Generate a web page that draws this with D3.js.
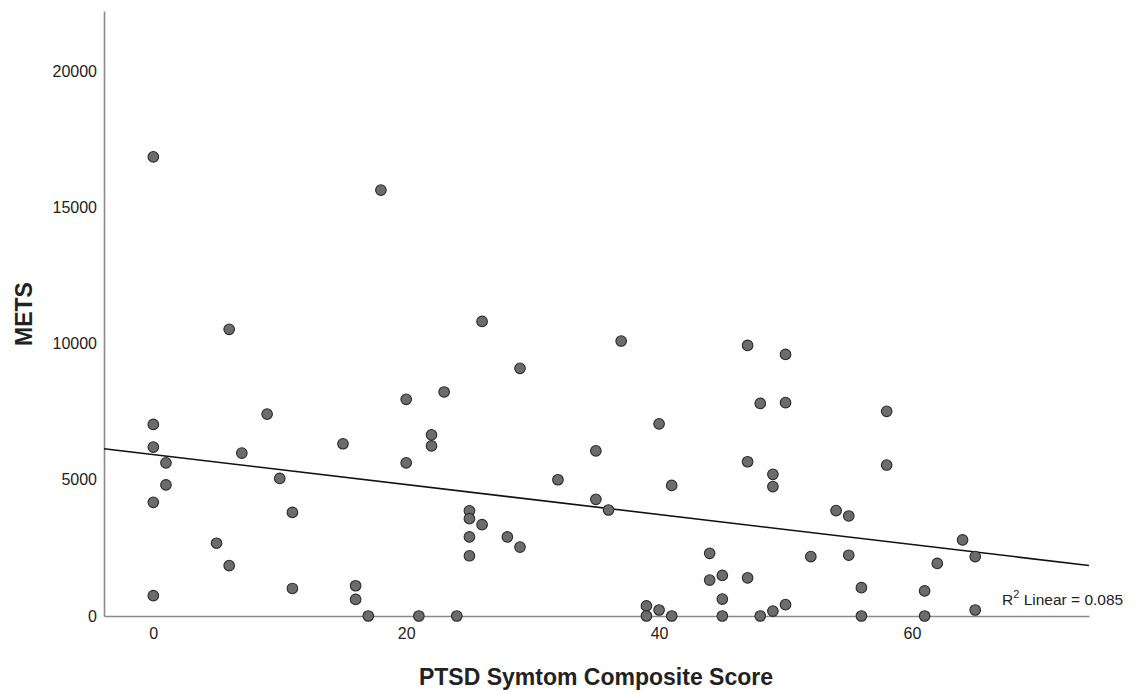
<!DOCTYPE html>
<html>
<head>
<meta charset="utf-8">
<script src="https://cdn.jsdelivr.net/npm/d3@7"></script>
<style>
  body { margin: 0; background: #fff; }
  svg text { font-family: Arial, "Liberation Sans", sans-serif; fill: #222; }
</style>
</head>
<body>
<script>
const WIDTH = 1135;
const HEIGHT = 694;

// PTSD score (x) and METS (y), one entry per respondent
var scores = [0, 0, 0, 0, 0, 1, 1, 5, 6, 6, 7, 9, 10, 11, 11, 15, 16, 16, 17, 18,
    20, 20, 21, 22, 22, 23, 24, 25, 25, 25, 25, 26, 26, 28, 29, 29, 32, 35, 35, 36,
    37, 39, 39, 40, 40, 41, 41, 44, 44, 45, 45, 45, 47, 47, 47, 48, 48, 49, 49, 49,
    50, 50, 50, 52, 54, 55, 55, 56, 56, 58, 58, 61, 61, 62, 64, 65, 65];
var mets = [16850, 7030, 6200, 4170, 745, 5620, 4810, 2670, 10520, 1850, 5980, 7410, 5050, 3800, 1010, 6320, 1110, 610, 0, 15630,
    7950, 5620, 0, 6650, 6240, 8220, 0, 3860, 3570, 2900, 2210, 10810, 3350, 2900, 9090, 2530, 5000, 6060, 4280, 3890,
    10090, 370, 0, 7050, 220, 4790, 0, 2300, 1320, 1490, 620, 0, 9930, 5660, 1400, 7800, 0, 5200, 4750, 180,
    9600, 7830, 420, 2180, 3870, 3670, 2230, 1040, 0, 7510, 5540, 920, 0, 1930, 2790, 2180, 220];

var xTicks = [0, 20, 40, 60];
var yTicks = [0, 5000, 10000, 15000, 20000];

// fitted linear line as reported by the chart
var fitIntercept = 5924;
var fitSlope = -55;
var fitLabel = 'Linear = 0.085';

var svg = d3.select('body').append('svg')
    .attr('width', WIDTH)
    .attr('height', HEIGHT);

var xScale = d3.scaleLinear()
    .domain([-3.9, 74])
    .range([104, 1089]);
var yScale = d3.scaleLinear()
    .domain([0, 22200])
    .range([616, 11]);

var xAxis = d3.axisBottom(xScale).tickValues(xTicks).tickFormat(d3.format('d'))
    .tickSize(0).tickSizeOuter(0).tickPadding(12);
var yAxis = d3.axisLeft(yScale).tickValues(yTicks).tickFormat(d3.format('d'))
    .tickSize(0).tickSizeOuter(0).tickPadding(7);

var gx = svg.append('g')
    .attr('transform', 'translate(0,' + yScale(0) + ')')
    .call(xAxis);
var gy = svg.append('g')
    .attr('transform', 'translate(' + xScale.range()[0] + ',0)')
    .call(yAxis);

[gx, gy].forEach(function (g) {
    g.select('.domain').attr('stroke', '#8a8a8a').attr('stroke-width', 1.6);
    g.selectAll('text')
        .style('font-size', '16px')
        .attr('fill', '#222');
});

// regression line
var line = d3.line()
    .x(function (d) { return xScale(d); })
    .y(function (d) { return yScale(fitIntercept + fitSlope * d); });

svg.append('path')
    .attr('d', line(xScale.domain()))
    .attr('fill', 'none')
    .attr('stroke', '#111')
    .attr('stroke-width', 1.6);

// points
svg.append('g').selectAll('circle')
    .data(scores)
    .enter()
    .append('circle')
    .attr('cx', function (d) { return xScale(d); })
    .attr('cy', function (d, i) { return yScale(mets[i]); })
    .attr('r', 5.3)
    .attr('fill', '#6c6c6c')
    .attr('stroke', '#2a2a2a')
    .attr('stroke-width', 1.1);

// R squared label
var r2 = svg.append('text')
    .attr('x', 1002)
    .attr('y', 605)
    .style('font-size', '15.5px');
r2.append('tspan').text('R');
r2.append('tspan').attr('dy', -7).style('font-size', '11px').text('2');
r2.append('tspan').attr('dy', 7).text(' ' + fitLabel);

// axis titles
svg.append('text')
    .attr('x', 596)
    .attr('y', 685)
    .attr('text-anchor', 'middle')
    .style('font-size', '23px')
    .style('font-weight', 'bold')
    .attr('fill', '#111')
    .text('PTSD Symtom Composite Score');

svg.append('text')
    .attr('transform', 'translate(32,314) rotate(-90)')
    .attr('text-anchor', 'middle')
    .style('font-size', '23px')
    .style('font-weight', 'bold')
    .attr('fill', '#111')
    .text('METS');
</script>
</body>
</html>
